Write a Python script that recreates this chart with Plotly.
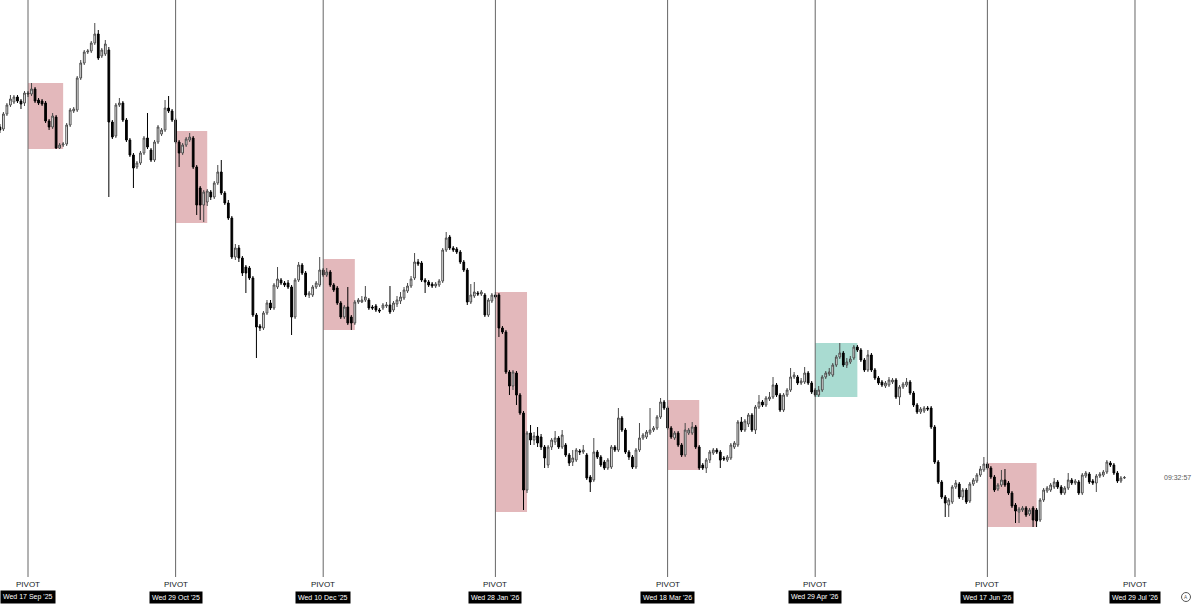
import pandas as pd
import plotly.graph_objects as go

# ---------------- data (daily candles, price in thousands) ----------------
first_day = "2025-09-09"

open_ = [
    117.3, 117.1, 118.6, 119.5, 119.8, 120.3, 119.9, 119.7, 120.7, 120.6,
    121.1, 120.0, 119.9, 119.7, 117.9, 117.3, 118.3, 115.2, 115.5, 115.6,
    117.5, 118.9, 119.0, 122.2, 123.7, 124.8, 124.9, 125.7, 126.6, 124.4,
    124.6, 125.0, 117.8, 116.4, 119.5, 119.7, 118.0, 116.0, 114.5, 113.3,
    113.7, 114.7, 116.2, 115.0, 114.0, 115.8, 116.6, 117.0, 119.2, 118.9,
    118.0, 115.8, 114.7, 115.5, 116.0, 116.2, 113.3, 111.2, 109.5, 109.8,
    110.8, 110.3, 111.7, 112.8, 110.7, 109.7, 108.2, 104.3, 105.2, 104.2,
    103.3, 103.2, 102.2, 98.5, 97.4, 97.2, 98.7, 99.7, 99.2, 101.3,
    102.0, 101.7, 101.7, 101.3, 98.3, 102.0, 103.5, 102.7, 100.5, 100.5,
    101.3, 101.5, 103.0, 102.5, 102.8, 101.5, 101.2, 99.7, 98.3, 99.3,
    98.3, 97.7, 99.8, 99.8, 100.0, 100.0, 99.3, 99.4, 99.0, 99.2,
    99.4, 99.5, 99.0, 99.6, 99.9, 100.2, 100.9, 101.4, 102.2, 103.8,
    103.7, 102.0, 101.8, 101.6, 101.4, 101.5, 101.9, 105.0, 106.3, 105.2,
    105.1, 104.8, 103.8, 103.0, 99.8, 100.4, 100.7, 100.6, 100.5, 98.5,
    99.9, 100.5, 100.5, 97.2, 96.8, 92.8, 91.4, 92.7, 90.5, 88.7,
    81.0, 86.7, 86.0, 86.4, 86.3, 85.3, 83.5, 85.3, 85.8, 86.2,
    85.3, 85.5, 84.5, 83.8, 84.0, 84.9, 84.8, 84.5, 82.3, 82.0,
    84.8, 84.3, 83.8, 83.2, 83.3, 85.3, 85.0, 88.2, 87.0, 84.8,
    84.3, 83.3, 85.0, 86.2, 86.3, 86.7, 87.0, 87.2, 88.3, 89.8,
    89.2, 87.2, 86.2, 86.7, 85.5, 84.5, 86.7, 86.7, 87.3, 85.3,
    83.5, 83.2, 84.0, 84.7, 85.0, 84.8, 84.2, 84.0, 84.2, 85.3,
    85.5, 87.8, 87.0, 87.6, 88.5, 87.0, 89.3, 89.8, 89.5, 90.1,
    90.3, 91.5, 90.5, 89.0, 90.5, 91.0, 92.3, 92.3, 91.7, 91.8,
    92.7, 91.7, 91.0, 90.5, 91.0, 92.3, 92.6, 92.5, 93.5, 94.3,
    94.7, 93.5, 93.8, 94.2, 95.3, 95.0, 94.0, 93.0, 94.5, 93.0,
    92.2, 91.8, 91.4, 91.5, 91.8, 92.0, 90.3, 91.3, 91.5, 91.8,
    90.7, 89.5, 88.8, 88.9, 89.2, 89.2, 87.3, 83.8, 81.8, 80.3,
    79.5, 79.8, 81.3, 81.6, 80.3, 81.0, 79.9, 81.6, 81.9, 82.5,
    83.0, 83.6, 83.2, 82.3, 81.1, 81.5, 82.0, 81.7, 80.7, 79.5,
    78.8, 79.0, 79.2, 78.6, 79.2, 79.0, 78.0, 80.0, 80.9, 81.0,
    81.3, 81.8, 81.3, 80.7, 81.2, 82.0, 81.7, 81.8, 80.7, 82.4,
    82.6, 81.9, 81.7, 82.4, 82.5, 82.8, 83.7, 83.5, 82.7, 81.9,
    82.2,
]

high = [
    117.6, 118.8, 119.7, 120.5, 120.5, 120.5, 120.1, 120.9, 120.9, 121.7,
    121.3, 120.2, 120.1, 119.9, 118.1, 118.7, 118.5, 115.7, 115.8, 117.7,
    119.2, 119.3, 122.4, 124.0, 125.0, 125.1, 125.9, 127.7, 127.0, 125.2,
    126.0, 125.3, 118.0, 119.7, 120.2, 119.9, 118.2, 116.2, 114.7, 113.9,
    114.9, 116.4, 118.7, 115.2, 116.0, 117.5, 117.2, 120.0, 120.4, 119.1,
    118.2, 116.0, 115.7, 116.3, 116.7, 116.4, 113.5, 111.4, 111.0, 111.1,
    111.0, 111.9, 113.5, 114.0, 110.9, 110.0, 108.4, 105.6, 105.5, 104.4,
    103.5, 103.4, 102.4, 98.7, 97.6, 98.9, 100.0, 100.0, 101.7, 103.3,
    102.2, 101.9, 102.0, 101.5, 102.2, 103.8, 103.7, 102.9, 100.9, 101.5,
    101.9, 104.3, 103.2, 103.2, 103.0, 101.7, 101.4, 99.9, 99.5, 101.3,
    98.5, 100.0, 100.2, 100.4, 101.4, 100.2, 99.5, 99.6, 99.2, 99.7,
    99.8, 101.4, 99.9, 100.4, 100.8, 101.3, 101.7, 102.4, 104.7, 104.1,
    103.9, 102.2, 102.0, 101.8, 101.8, 102.1, 105.2, 106.8, 106.5, 105.4,
    105.3, 105.0, 104.0, 103.2, 101.6, 101.8, 100.9, 101.0, 100.7, 100.2,
    100.7, 100.8, 100.7, 97.4, 97.0, 93.0, 93.0, 92.9, 90.7, 88.9,
    86.9, 87.5, 86.8, 87.3, 86.6, 85.5, 85.5, 86.2, 86.9, 86.4,
    87.0, 85.7, 84.7, 85.0, 85.2, 85.1, 85.5, 84.7, 82.5, 86.2,
    85.0, 84.5, 84.0, 84.2, 85.5, 85.5, 89.2, 88.4, 87.2, 85.0,
    84.5, 85.2, 87.7, 86.7, 87.0, 89.2, 87.4, 88.5, 90.2, 90.0,
    89.4, 87.4, 86.9, 86.9, 85.7, 87.7, 87.2, 87.8, 87.5, 85.5,
    83.7, 84.2, 85.0, 85.2, 85.2, 85.0, 84.4, 84.5, 85.7, 85.9,
    88.0, 88.3, 88.1, 88.7, 88.7, 89.5, 90.5, 90.0, 90.4, 90.8,
    92.3, 91.7, 90.7, 90.7, 91.2, 93.2, 92.8, 92.5, 92.2, 93.3,
    92.9, 91.9, 91.2, 91.4, 92.5, 92.9, 93.2, 93.7, 94.5, 95.7,
    94.9, 94.2, 94.4, 95.5, 95.5, 95.2, 94.2, 95.0, 94.7, 93.2,
    92.4, 92.0, 91.9, 92.3, 92.2, 92.2, 91.5, 91.8, 92.2, 92.0,
    90.9, 89.7, 89.3, 89.4, 89.4, 89.4, 87.5, 84.0, 82.0, 80.5,
    80.2, 81.5, 82.0, 81.8, 81.2, 81.2, 81.8, 82.2, 82.7, 83.4,
    84.3, 83.8, 83.4, 82.5, 81.7, 83.0, 83.1, 81.9, 80.9, 79.7,
    79.3, 79.4, 79.4, 79.2, 79.4, 79.2, 80.2, 81.2, 81.4, 81.7,
    82.2, 82.0, 81.5, 81.4, 82.7, 82.2, 82.1, 82.0, 82.7, 82.9,
    82.8, 82.1, 82.6, 82.8, 83.0, 84.0, 83.9, 83.7, 82.9, 82.4,
    82.4,
]

low = [
    116.7, 116.9, 118.4, 119.3, 119.6, 119.7, 119.1, 119.4, 120.3, 120.4,
    119.7, 119.5, 119.4, 117.7, 117.0, 117.1, 115.1, 115.1, 115.3, 115.4,
    117.3, 118.7, 118.8, 122.0, 123.5, 124.6, 124.7, 125.5, 124.0, 124.2,
    124.4, 110.3, 116.1, 116.2, 119.3, 117.8, 115.8, 114.3, 111.2, 113.1,
    113.5, 114.5, 115.1, 113.8, 113.8, 115.6, 116.4, 116.8, 118.7, 117.8,
    115.6, 113.3, 114.5, 115.3, 115.8, 113.1, 108.5, 108.0, 107.8, 109.4,
    110.0, 110.1, 111.5, 110.5, 109.5, 108.0, 104.1, 104.0, 103.8, 102.4,
    100.7, 102.0, 98.3, 94.2, 96.9, 97.0, 98.5, 99.0, 99.0, 101.1,
    101.5, 101.3, 101.1, 96.5, 98.1, 101.8, 102.5, 100.3, 100.2, 100.3,
    101.1, 101.3, 102.3, 102.3, 101.3, 100.8, 99.5, 98.1, 98.1, 97.5,
    97.0, 97.5, 99.6, 99.7, 99.8, 99.0, 99.0, 98.8, 98.7, 99.0,
    99.2, 98.6, 98.8, 99.3, 99.6, 100.0, 100.7, 101.2, 102.0, 103.4,
    101.8, 100.7, 101.3, 101.2, 101.2, 101.3, 101.7, 104.8, 105.0, 104.8,
    104.6, 103.6, 102.8, 99.5, 99.6, 100.2, 100.4, 100.4, 98.3, 98.3,
    99.7, 100.1, 96.3, 96.6, 92.6, 90.5, 91.0, 89.5, 88.5, 79.0,
    80.7, 85.5, 85.5, 85.3, 85.0, 83.2, 83.2, 85.0, 85.5, 85.1,
    85.1, 84.3, 83.4, 83.4, 83.8, 84.5, 84.6, 82.0, 80.8, 81.8,
    84.1, 83.3, 83.0, 83.0, 83.1, 84.8, 84.8, 86.8, 84.6, 84.0,
    83.1, 83.1, 84.8, 86.0, 86.1, 86.5, 86.8, 87.0, 88.1, 89.0,
    87.0, 86.1, 86.0, 85.3, 84.3, 84.3, 86.5, 86.5, 85.1, 83.0,
    83.0, 82.7, 83.7, 84.5, 84.6, 83.2, 83.9, 83.8, 84.0, 85.1,
    85.3, 86.8, 86.8, 87.3, 86.8, 86.6, 89.1, 89.3, 89.3, 89.9,
    90.1, 90.3, 88.8, 88.8, 90.3, 90.8, 92.1, 91.5, 91.5, 91.6,
    91.5, 90.6, 90.3, 90.3, 90.8, 92.1, 92.4, 92.3, 93.3, 94.1,
    93.3, 93.2, 93.6, 94.0, 94.8, 93.8, 92.8, 92.8, 92.8, 92.0,
    91.5, 91.3, 91.2, 91.3, 91.6, 90.1, 89.5, 91.1, 91.3, 90.5,
    89.3, 88.6, 88.6, 88.7, 88.9, 87.1, 83.6, 81.6, 80.1, 78.3,
    78.3, 79.6, 81.1, 80.1, 80.0, 79.6, 79.7, 81.4, 81.7, 82.3,
    82.8, 83.0, 82.1, 80.8, 80.9, 81.3, 81.3, 80.5, 79.2, 77.7,
    77.7, 78.8, 78.3, 78.4, 77.3, 77.3, 77.8, 79.8, 80.7, 80.8,
    81.1, 81.1, 80.5, 80.5, 81.0, 81.5, 81.5, 80.5, 80.5, 82.2,
    81.6, 81.5, 80.8, 82.2, 82.3, 82.6, 83.3, 82.5, 81.7, 81.7,
    82.1,
]

close = [
    117.0, 118.6, 119.5, 120.1, 120.3, 119.9, 119.6, 120.7, 120.6, 121.1,
    119.9, 119.7, 119.6, 117.9, 117.3, 118.4, 115.2, 115.5, 115.6, 117.5,
    119.0, 119.1, 122.2, 123.7, 124.8, 124.9, 125.7, 126.6, 124.2, 125.0,
    125.6, 117.8, 116.3, 119.5, 119.7, 118.0, 116.0, 114.5, 113.2, 113.7,
    114.7, 116.2, 115.3, 114.0, 115.8, 117.3, 117.0, 119.2, 118.9, 118.0,
    115.8, 114.7, 115.5, 116.1, 116.3, 113.3, 109.5, 109.5, 110.8, 110.9,
    110.3, 111.7, 112.8, 110.7, 109.7, 108.2, 104.3, 105.2, 104.2, 102.7,
    102.7, 102.2, 98.5, 97.3, 97.2, 98.7, 99.7, 99.2, 101.5, 102.1,
    101.7, 101.5, 101.3, 98.3, 102.0, 103.5, 102.7, 100.5, 100.7, 101.3,
    101.7, 103.0, 102.5, 102.8, 101.5, 101.0, 99.7, 98.3, 99.3, 97.7,
    97.7, 99.8, 100.0, 100.0, 100.3, 99.2, 99.2, 99.0, 98.9, 99.5,
    99.5, 98.8, 99.7, 100.0, 100.3, 101.0, 101.4, 102.1, 103.8, 103.6,
    102.0, 101.8, 101.5, 101.4, 101.6, 101.9, 105.0, 106.2, 105.2, 105.0,
    104.8, 103.8, 103.0, 99.8, 100.5, 100.8, 100.6, 100.8, 98.5, 100.0,
    100.5, 100.3, 97.2, 96.8, 92.8, 91.4, 92.8, 90.5, 88.7, 81.0,
    86.7, 86.0, 86.4, 85.7, 85.3, 84.2, 85.3, 86.0, 86.2, 85.3,
    86.5, 84.5, 83.7, 84.2, 85.0, 84.8, 85.0, 82.2, 81.8, 84.8,
    84.3, 83.5, 83.2, 84.0, 85.3, 85.0, 88.2, 87.0, 84.8, 84.3,
    83.3, 85.0, 86.2, 86.5, 86.8, 87.0, 87.2, 88.3, 89.8, 89.2,
    87.2, 86.3, 86.7, 85.5, 84.5, 87.0, 87.0, 87.3, 85.3, 83.2,
    83.2, 84.0, 84.8, 85.0, 84.8, 84.0, 84.1, 84.3, 85.5, 85.7,
    87.8, 87.0, 87.9, 88.5, 87.0, 89.3, 89.8, 89.5, 90.2, 90.3,
    91.5, 90.5, 89.0, 90.5, 91.0, 92.3, 92.5, 91.7, 91.9, 92.7,
    91.7, 90.8, 90.5, 91.0, 92.3, 92.7, 92.8, 93.5, 94.3, 94.7,
    93.5, 93.8, 94.1, 95.3, 95.0, 94.0, 93.0, 94.5, 93.0, 92.2,
    91.7, 91.5, 91.7, 92.0, 92.0, 90.3, 91.3, 91.6, 91.8, 90.7,
    89.5, 88.8, 89.1, 89.2, 89.1, 87.3, 83.8, 81.8, 80.3, 79.7,
    80.0, 81.3, 81.7, 80.3, 81.0, 79.8, 81.6, 82.0, 82.5, 83.1,
    83.6, 83.2, 82.3, 81.0, 81.5, 82.0, 81.5, 80.7, 79.4, 78.9,
    79.1, 79.2, 78.5, 79.0, 78.0, 77.9, 80.0, 81.0, 81.2, 81.5,
    81.8, 81.3, 80.7, 81.2, 82.0, 81.7, 81.9, 80.7, 82.5, 82.7,
    81.8, 81.7, 82.4, 82.6, 82.8, 83.8, 83.5, 82.7, 81.9, 82.2,
    82.25,
]

pivot_dates = ["2025-09-17", "2025-10-29", "2025-12-10", "2026-01-28",
               "2026-03-18", "2026-04-29", "2026-06-17", "2026-07-29"]
pivot_labels = ["Wed 17 Sep '25", "Wed 29 Oct '25", "Wed 10 Dec '25", "Wed 28 Jan '26",
                "Wed 18 Mar '26", "Wed 29 Apr '26", "Wed 17 Jun '26", "Wed 29 Jul '26"]

zone_start = ["2025-09-17", "2025-10-29", "2025-12-10", "2026-01-28",
              "2026-03-18", "2026-04-29", "2026-06-17"]
zone_end = ["2025-09-27", "2025-11-07", "2025-12-19", "2026-02-06",
            "2026-03-27", "2026-05-11", "2026-07-01"]
zone_top = [121.7, 116.9, 104.1, 100.8, 90.0, 95.7, 83.7]
zone_bottom = [115.1, 107.7, 97.0, 78.8, 83.0, 90.3, 77.3]
zone_kind = ["bear", "bear", "bear", "bear", "bear", "bull", "bear"]

countdown_text = "09:32:57"

# ---------------- figure ----------------
W, H = 1200, 605
dates = pd.date_range(first_day, periods=len(close), freq="D")

fig = go.Figure()
fig.add_trace(go.Candlestick(
    x=dates, open=open_, high=high, low=low, close=close,
    increasing=dict(fillcolor="#ffffff", line=dict(color="#4a4a4a", width=1)),
    decreasing=dict(fillcolor="#000000", line=dict(color="#000000", width=1)),
    whiskerwidth=0, hoverinfo="skip", showlegend=False,
))

zone_colors = {"bear": "#e3b8bb", "bull": "#a9dbd1"}
shapes = []
for xs, xe, top, bot, kind in zip(zone_start, zone_end, zone_top, zone_bottom, zone_kind):
    shapes.append(dict(type="rect", xref="x", yref="y", x0=xs, x1=xe, y0=bot, y1=top,
                       fillcolor=zone_colors[kind], line=dict(width=0), layer="below"))

line_bottom = 1 - 577 / H
for d in pivot_dates:
    shapes.append(dict(type="line", xref="x", yref="paper", x0=d, x1=d,
                       y0=line_bottom, y1=1, line=dict(color="#666666", width=1),
                       layer="above"))

# auto-scale icon bottom-right
shapes.append(dict(type="circle", xref="paper", yref="paper",
                   x0=1181.5 / W, x1=1190.5 / W, y0=1 - 601.5 / H, y1=1 - 592.5 / H,
                   line=dict(color="#555555", width=1)))

annotations = []
for d, lab in zip(pivot_dates, pivot_labels):
    annotations.append(dict(x=d, xref="x", y=1 - 584 / H, yref="paper", text="PIVOT",
                            showarrow=False, font=dict(size=8, color="#131722",
                                                       family="Liberation Sans, Arial"),
                            xanchor="center", yanchor="middle"))
    annotations.append(dict(x=d, xref="x", y=1 - 597 / H, yref="paper", text=lab,
                            showarrow=False, bgcolor="#000000", borderpad=2,
                            font=dict(size=7, color="#ffffff",
                                      family="Liberation Sans Narrow, Liberation Sans, Arial"),
                            xanchor="center", yanchor="middle"))

annotations.append(dict(x=1177 / W, xref="paper", y=close[-1], yref="y", text=countdown_text,
                        showarrow=False, font=dict(size=7, color="#5a5a5a",
                                                   family="Liberation Sans, Arial"),
                        xanchor="center", yanchor="middle"))
annotations.append(dict(x=1186 / W, xref="paper", y=1 - 597 / H, yref="paper", text="A",
                        showarrow=False, font=dict(size=5, color="#555555"),
                        xanchor="center", yanchor="middle"))

x_left = pd.Timestamp("2025-09-17") - pd.Timedelta(days=7.97)
x_right = pd.Timestamp("2025-09-17") + pd.Timedelta(days=333.5)

fig.update_layout(
    width=W, height=H,
    margin=dict(l=0, r=0, t=0, b=0),
    paper_bgcolor="#ffffff", plot_bgcolor="#ffffff",
    showlegend=False, hovermode=False,
    shapes=shapes, annotations=annotations,
    xaxis=dict(range=[x_left, x_right], showgrid=False, zeroline=False,
               showticklabels=False, showline=False, rangeslider=dict(visible=False),
               fixedrange=True),
    yaxis=dict(range=[130 - H / 10, 130], showgrid=False, zeroline=False,
               showticklabels=False, showline=False, fixedrange=True),
)

fig.write_html("out.html", config={"displayModeBar": False})
